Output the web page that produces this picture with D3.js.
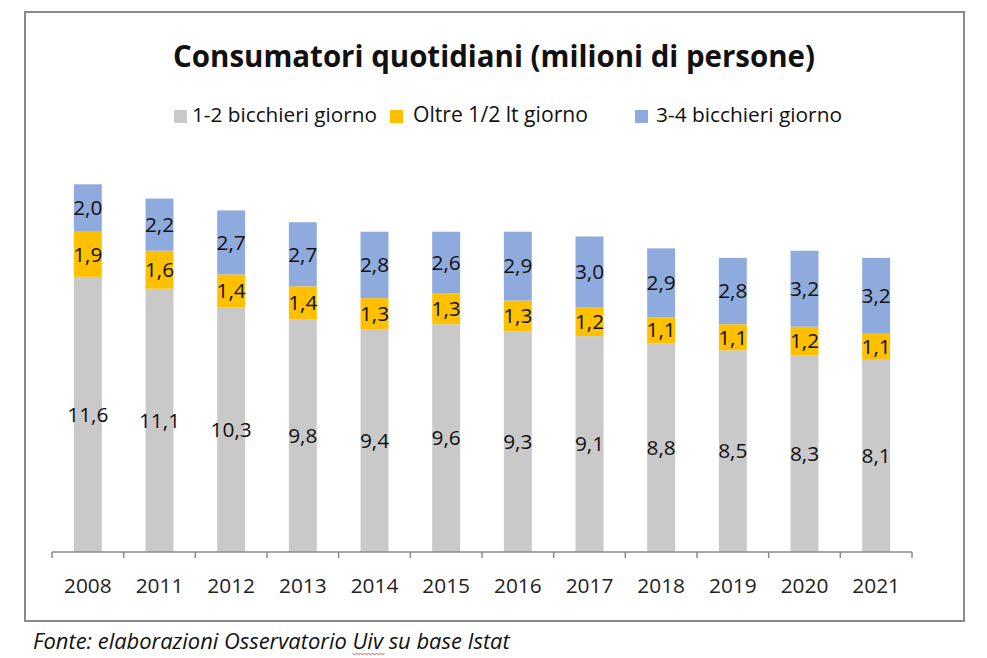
<!DOCTYPE html>
<html><head><meta charset="utf-8">
<script src="https://cdn.jsdelivr.net/npm/d3@7"></script>
<style>body{margin:0;background:#fff;} svg{display:block;font-family:"Open Sans",sans-serif;}</style>
</head><body>
<svg id="c" width="987" height="658"></svg>
<script>
const years = ["2008","2011","2012","2013","2014","2015","2016","2017","2018","2019","2020","2021"];
const seriesNames = ["1-2 bicchieri giorno","Oltre 1/2 lt giorno","3-4 bicchieri giorno"];
const gray = [11.6,11.1,10.3,9.8,9.4,9.6,9.3,9.1,8.8,8.5,8.3,8.1];
const yellow = [1.9,1.6,1.4,1.4,1.3,1.3,1.3,1.2,1.1,1.1,1.2,1.1];
const blue = [2.0,2.2,2.7,2.7,2.8,2.6,2.9,3.0,2.9,2.8,3.2,3.2];
const colors = ["#c9c9c9","#ffc000","#8faadc"];
const title = "Consumatori quotidiani (milioni di persone)";
const source = "Fonte: elaborazioni Osservatorio Uiv su base Istat";

const svg = d3.select("#c");
function fit(sel, w){
  const n = sel.node(); const fs = parseFloat(sel.attr("font-size"));
  const cur = n.getComputedTextLength();
  sel.attr("font-size", (fs*w/cur).toFixed(2));
  return sel;
}
function sizeFor(str, w, base, weight){
  const t = svg.append("text").attr("font-size",base).attr("font-weight",weight||"normal").text(str);
  const s = base*w/t.node().getComputedTextLength(); t.remove(); return s;
}

svg.append("rect").attr("x",25).attr("y",12).attr("width",939).attr("height",609)
  .attr("fill","#fff").attr("stroke","#8a8a8a").attr("stroke-width",2);

fit(svg.append("text").attr("x",494).attr("y",67).attr("text-anchor","middle")
  .attr("font-size",26).attr("font-weight","bold").attr("fill","#111").text(title), 642);

const rows = years.map((y,i)=>({year:y, s0:gray[i], s1:yellow[i], s2:blue[i]}));
const stack = d3.stack().keys(["s0","s1","s2"])(rows);

const x = d3.scaleBand().domain(years).range([52,912]).paddingInner(0.61).paddingOuter(0.305);
const y = d3.scaleLinear().domain([0,15.5]).range([552,184.3]);

const labelSize = sizeFor("2008", 47.7, 18);
const g = svg.append("g");
stack.forEach((layer,k)=>{
  g.selectAll(null).data(layer).enter().append("rect")
    .attr("x",d=>x(d.data.year)).attr("width",x.bandwidth())
    .attr("y",d=>y(d[1])).attr("height",d=>y(d[0])-y(d[1]))
    .attr("fill",colors[k]);
  g.selectAll(null).data(layer).enter().append("text")
    .attr("x",d=>x(d.data.year)+x.bandwidth()/2)
    .attr("y",d=>(y(d[0])+y(d[1]))/2)
    .attr("dy","0.35em").attr("text-anchor","middle").attr("font-size",labelSize).attr("fill","#111")
    .text(d=>(d[1]-d[0]).toFixed(1).replace(".",","));
});

// axis
const xb = d3.scaleLinear().domain([0,years.length]).range([52,912]);
const ax = svg.append("g");
ax.append("line").attr("x1",52).attr("x2",912).attr("y1",552).attr("y2",552).attr("stroke","#8a8a8a").attr("stroke-width",1.5);
ax.selectAll(null).data(d3.range(years.length+1)).enter().append("line")
  .attr("x1",d=>xb(d)).attr("x2",d=>xb(d)).attr("y1",552).attr("y2",558).attr("stroke","#8a8a8a").attr("stroke-width",1.5);
ax.selectAll(null).data(years).enter().append("text")
  .attr("x",d=>x(d)+x.bandwidth()/2).attr("y",593).attr("text-anchor","middle")
  .attr("font-size",labelSize).attr("fill","#222").text(d=>d);

// legend
const legX = [174,390,635];
const legT = [192,413,656];
const legW = [185,175,186];
const lg = svg.append("g");
seriesNames.forEach((n,i)=>{
  lg.append("rect").attr("x",legX[i]).attr("y",110).attr("width",13).attr("height",13).attr("fill",colors[i]);
  fit(lg.append("text").attr("x",legT[i]).attr("y",122).attr("font-size",18).attr("fill","#111").text(n), legW[i]);
});

// source
const src = fit(svg.append("text").attr("x",33).attr("y",649).attr("font-size",18).attr("font-style","italic").attr("fill","#111").text(source), 477);
const node = src.node();
const idx = source.indexOf("Uiv");
const x0 = node.getStartPositionOfChar(idx).x, x1 = node.getEndPositionOfChar(idx+2).x;
let p = "M"+x0+",653";
for(let xx=x0, k=0; xx<x1; xx+=2, k++) p += " L"+(xx+2)+","+(k%2?653:655);
svg.append("path").attr("d",p).attr("fill","none").attr("stroke","#e03030").attr("stroke-width",0.8);
</script>
</body></html>
